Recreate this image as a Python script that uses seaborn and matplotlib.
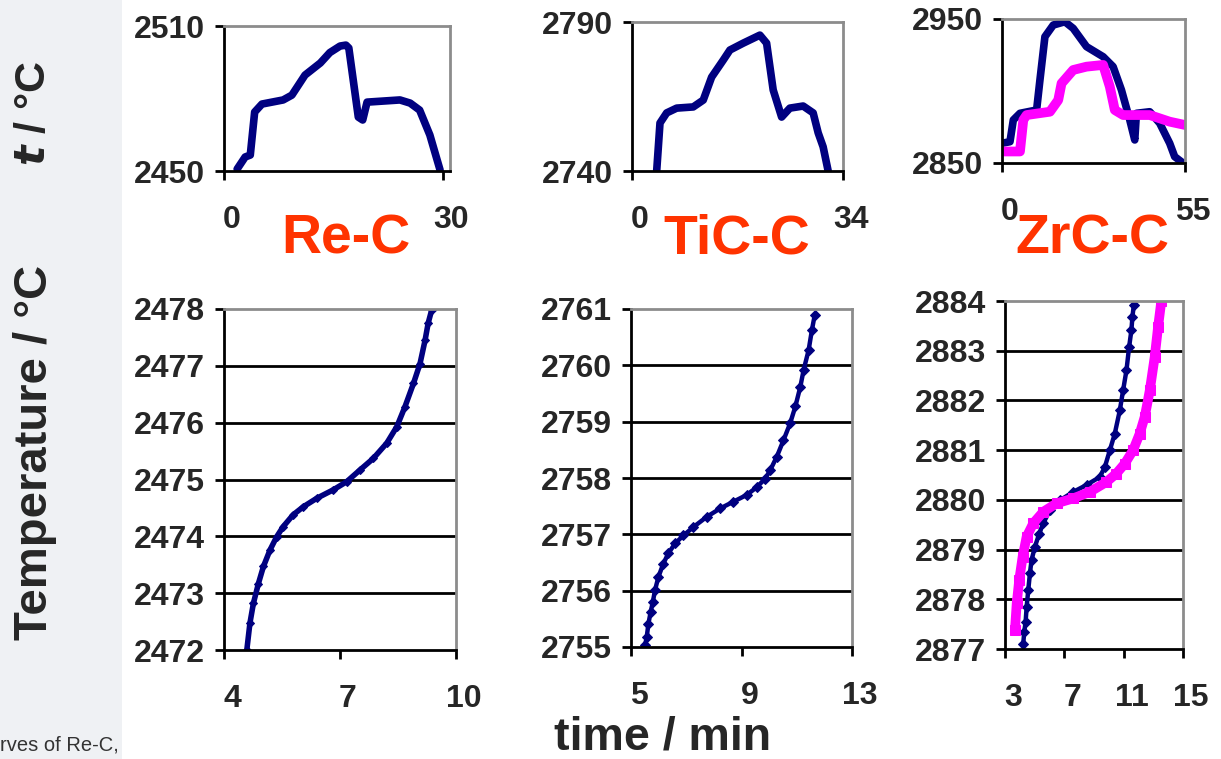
import matplotlib
matplotlib.use("Agg")
import matplotlib.pyplot as plt
import matplotlib.transforms as mtransforms
from matplotlib.patches import Rectangle
import seaborn as sns
import pandas as pd

# ---------------- data ----------------
# Top row: full melt/freeze cycles, t / degC vs time / min
re_top_x = [1.8, 2.9, 3.6, 4.2, 5.2, 8.1, 9.3, 11.1, 13.2, 14.5, 15.9, 16.7, 17.1,
            18.4, 19.0, 19.6, 24.1, 25.5, 26.8, 28.2, 29.0, 29.6]
re_top_y = [2450.8, 2455.8, 2456.6, 2474.4, 2477.7, 2479.4, 2481.4, 2489.7, 2494.7,
            2499.0, 2501.7, 2502.1, 2500.9, 2472.3, 2471.1, 2478.5, 2479.4, 2478.1,
            2475.2, 2464.9, 2456.6, 2450.4]

tic_top_x = [3.98, 4.51, 5.59, 7.20, 9.87, 11.48, 12.83, 14.70, 15.78, 17.92, 20.61,
             21.69, 22.75, 24.11, 25.44, 27.58, 29.19, 30.00, 30.80, 31.61]
tic_top_y = [2740.1, 2756.1, 2759.5, 2761.1, 2761.5, 2763.8, 2771.5, 2777.2, 2780.6,
             2782.9, 2785.6, 2782.9, 2767.2, 2758.1, 2761.1, 2761.8, 2759.5, 2752.8,
             2748.1, 2740.0]

zr_top_blue_x = [0.0, 2.4, 3.4, 5.4, 10.4, 11.4, 12.9, 15.4, 18.9, 21.4, 25.4, 30.4,
                 33.4, 35.9, 38.4, 39.9, 40.4, 44.4, 47.4, 50.4, 51.9, 54.4]
zr_top_blue_y = [2863.7, 2864.8, 2879.9, 2884.5, 2886.8, 2907.6, 2937.7, 2945.8,
                 2948.1, 2943.5, 2930.8, 2923.8, 2916.9, 2900.7, 2879.9, 2866.0,
                 2884.5, 2885.6, 2877.6, 2863.7, 2854.4, 2850.0]
zr_top_mag_x = [0.0, 5.4, 6.4, 7.4, 14.4, 16.9, 17.9, 21.4, 25.4, 30.4, 32.4, 33.9,
                36.4, 44.4, 50.4, 55.0]
zr_top_mag_y = [2858.0, 2858.0, 2879.9, 2883.3, 2885.6, 2893.7, 2905.3, 2914.6,
                2916.9, 2918.1, 2903.0, 2886.8, 2883.3, 2883.3, 2878.7, 2876.4]

# Bottom row: melting plateaus (zoom)
re_bot_x = [4.59, 4.67, 4.76, 4.89, 5.02, 5.19, 5.36, 5.53, 5.79, 6.05, 6.40, 6.83,
            7.17, 7.52, 7.86, 8.21, 8.47, 8.68, 8.90, 9.07, 9.20, 9.28, 9.37]
re_bot_y = [2472.00, 2472.47, 2472.82, 2473.17, 2473.47, 2473.76, 2473.99, 2474.17,
            2474.38, 2474.52, 2474.67, 2474.82, 2474.96, 2475.17, 2475.37, 2475.64,
            2475.93, 2476.28, 2476.69, 2477.04, 2477.45, 2477.75, 2477.98]

tic_bot_x = [5.51, 5.57, 5.63, 5.71, 5.79, 5.87, 5.99, 6.17, 6.35, 6.60, 6.90, 7.26,
             7.74, 8.23, 8.71, 9.19, 9.56, 9.86, 10.04, 10.28, 10.52, 10.76, 10.95,
             11.13, 11.25, 11.43, 11.55, 11.65]
tic_bot_y = [2755.03, 2755.18, 2755.41, 2755.62, 2755.80, 2756.01, 2756.24, 2756.48,
             2756.66, 2756.84, 2756.98, 2757.13, 2757.31, 2757.46, 2757.58, 2757.70,
             2757.84, 2757.99, 2758.14, 2758.38, 2758.67, 2758.97, 2759.27, 2759.62,
             2759.92, 2760.27, 2760.63, 2760.89]

zr_bot_blue_x = [4.23, 4.30, 4.39, 4.46, 4.57, 4.68, 4.79, 5.02, 5.31, 5.58, 6.03,
                 6.70, 7.60, 8.50, 9.39, 9.73, 10.07, 10.40, 10.74, 10.96, 11.19,
                 11.37, 11.52, 11.59, 11.68]
zr_bot_blue_y = [2877.11, 2877.35, 2877.55, 2877.85, 2878.19, 2878.52, 2878.79,
                 2879.06, 2879.32, 2879.53, 2879.79, 2879.99, 2880.16, 2880.30,
                 2880.46, 2880.66, 2881.00, 2881.33, 2881.80, 2882.20, 2882.61,
                 2883.08, 2883.41, 2883.68, 2883.91]
zr_bot_mag_x = [3.67, 3.79, 3.96, 4.19, 4.46, 4.91, 5.58, 6.48, 7.60, 8.72, 9.84,
                10.51, 11.08, 11.64, 12.08, 12.42, 12.76, 13.09, 13.32, 13.54]
zr_bot_mag_y = [2877.38, 2877.92, 2878.39, 2878.86, 2879.26, 2879.53, 2879.76,
                2879.93, 2880.03, 2880.16, 2880.36, 2880.53, 2880.73, 2881.00,
                2881.33, 2881.67, 2882.20, 2882.87, 2883.48, 2884.00]

titles = ["Re-C", "TiC-C", "ZrC-C"]
top_xticks = [[0, 30], [0, 34], [0, 55]]
top_yticks = [[2450, 2510], [2740, 2790], [2850, 2950]]
bot_xticks = [[4, 7, 10], [5, 9, 13], [3, 7, 11, 15]]
bot_yticks = [list(range(2472, 2479)), list(range(2755, 2762)), list(range(2877, 2885))]

NAVY = "#000080"
MAGENTA = "#FF00FF"
RED = "#FF3300"

# ---------------- figure ----------------
sns.set_theme(style="white")
plt.rcParams["font.family"] = ["Liberation Sans", "DejaVu Sans"]
plt.rcParams["font.weight"] = "bold"

W, H = 1221, 759
fig = plt.figure(figsize=(W / 100, H / 100), dpi=100)
fig.patch.set_facecolor("white")
fig.patches.append(Rectangle((0, 0), 122 / W, 1, transform=fig.transFigure,
                             facecolor="#eff1f4", edgecolor="none", zorder=-10))


def box(l, r, t, b):
    return [l / W, 1 - b / H, (r - l) / W, (b - t) / H]


top_boxes = [box(224, 450, 26, 171), box(632, 843, 22, 171), box(1002, 1185, 19, 163)]
bot_boxes = [box(224, 456, 309, 650), box(631, 852, 309, 647), box(1005, 1183, 301, 649)]
top_xlims = [(0, 30.96), (0, 34), (0, 55)]

offset = mtransforms.ScaledTranslation(8 / 100, 0, fig.dpi_scale_trans)


def style_axes(ax):
    ax.set_facecolor("white")
    for s in ["left", "bottom"]:
        ax.spines[s].set_color("black")
        ax.spines[s].set_linewidth(2)
    for s in ["top", "right"]:
        ax.spines[s].set_color("#8c8c8c")
        ax.spines[s].set_linewidth(2)
    ax.tick_params(axis="both", direction="out", length=6.5, width=2, color="black",
                   labelsize=23, left=True, bottom=True)
    ax.tick_params(axis="x", pad=18)
    ax.tick_params(axis="y", pad=7)
    for lab in ax.get_xticklabels() + ax.get_yticklabels():
        lab.set_fontweight("bold")
    for lab in ax.get_xticklabels():
        lab.set_transform(lab.get_transform() + offset)
    ax.set_xlabel("")
    ax.set_ylabel("")


# top row
top_data = [
    [(re_top_x, re_top_y, NAVY, 5.5)],
    [(tic_top_x, tic_top_y, NAVY, 5.5)],
    [(zr_top_blue_x, zr_top_blue_y, NAVY, 5.5), (zr_top_mag_x, zr_top_mag_y, MAGENTA, 7)],
]
for i in range(3):
    ax = fig.add_axes(top_boxes[i])
    for xs, ys, col, lw in top_data[i]:
        df = pd.DataFrame({"x": xs, "y": ys})
        sns.lineplot(data=df, x="x", y="y", ax=ax, sort=False, estimator=None,
                     color=col, lw=lw, solid_capstyle="round", solid_joinstyle="round")
    ax.set_xlim(*top_xlims[i])
    ax.set_ylim(top_yticks[i][0], top_yticks[i][1])
    ax.set_xticks(top_xticks[i])
    ax.set_yticks(top_yticks[i])
    style_axes(ax)

# bottom row
bot_data = [
    [(re_bot_x, re_bot_y, NAVY, 4.0, "D", 4.5)],
    [(tic_bot_x, tic_bot_y, NAVY, 3.2, "D", 5)],
    [(zr_bot_blue_x, zr_bot_blue_y, NAVY, 3.2, "D", 5),
     (zr_bot_mag_x, zr_bot_mag_y, MAGENTA, 7, "s", 7)],
]
for i in range(3):
    ax = fig.add_axes(bot_boxes[i])
    for yv in bot_yticks[i][1:-1]:
        ax.axhline(yv, color="black", lw=2, zorder=0)
    for xs, ys, col, lw, mk, ms in bot_data[i]:
        df = pd.DataFrame({"x": xs, "y": ys})
        sns.lineplot(data=df, x="x", y="y", ax=ax, sort=False, estimator=None,
                     color=col, lw=lw, marker=mk, markersize=ms,
                     markeredgecolor=col, markerfacecolor=col, clip_on=True)
    ax.set_xlim(bot_xticks[i][0], bot_xticks[i][-1])
    ax.set_ylim(bot_yticks[i][0], bot_yticks[i][-1])
    ax.set_xticks(bot_xticks[i])
    ax.set_yticks(bot_yticks[i])
    style_axes(ax)

# titles
for cx, t in zip([346, 737, 1092], titles):
    fig.text(cx / W, 1 - 240 / H, t, color=RED, fontsize=40, fontweight="bold",
             ha="center", va="center")

# axis labels
fig.text(34 / W, 1 - 113 / H, r"$\bfit{t}$ / °C", rotation=90, fontsize=31,
         fontweight="bold", ha="center", va="center")
fig.text(35 / W, 1 - 452 / H, "Temperature / °C", rotation=90, fontsize=34,
         fontweight="bold", ha="center", va="center")
fig.text(663 / W, 1 - 738 / H, "time / min", fontsize=33.5, fontweight="bold",
         ha="center", va="center")
fig.text(0, 1 - 745 / H, "rves of Re-C,", fontsize=14.5, fontweight="normal",
         color="#333333", ha="left", va="center")

fig.savefig("out.png", dpi=100)
